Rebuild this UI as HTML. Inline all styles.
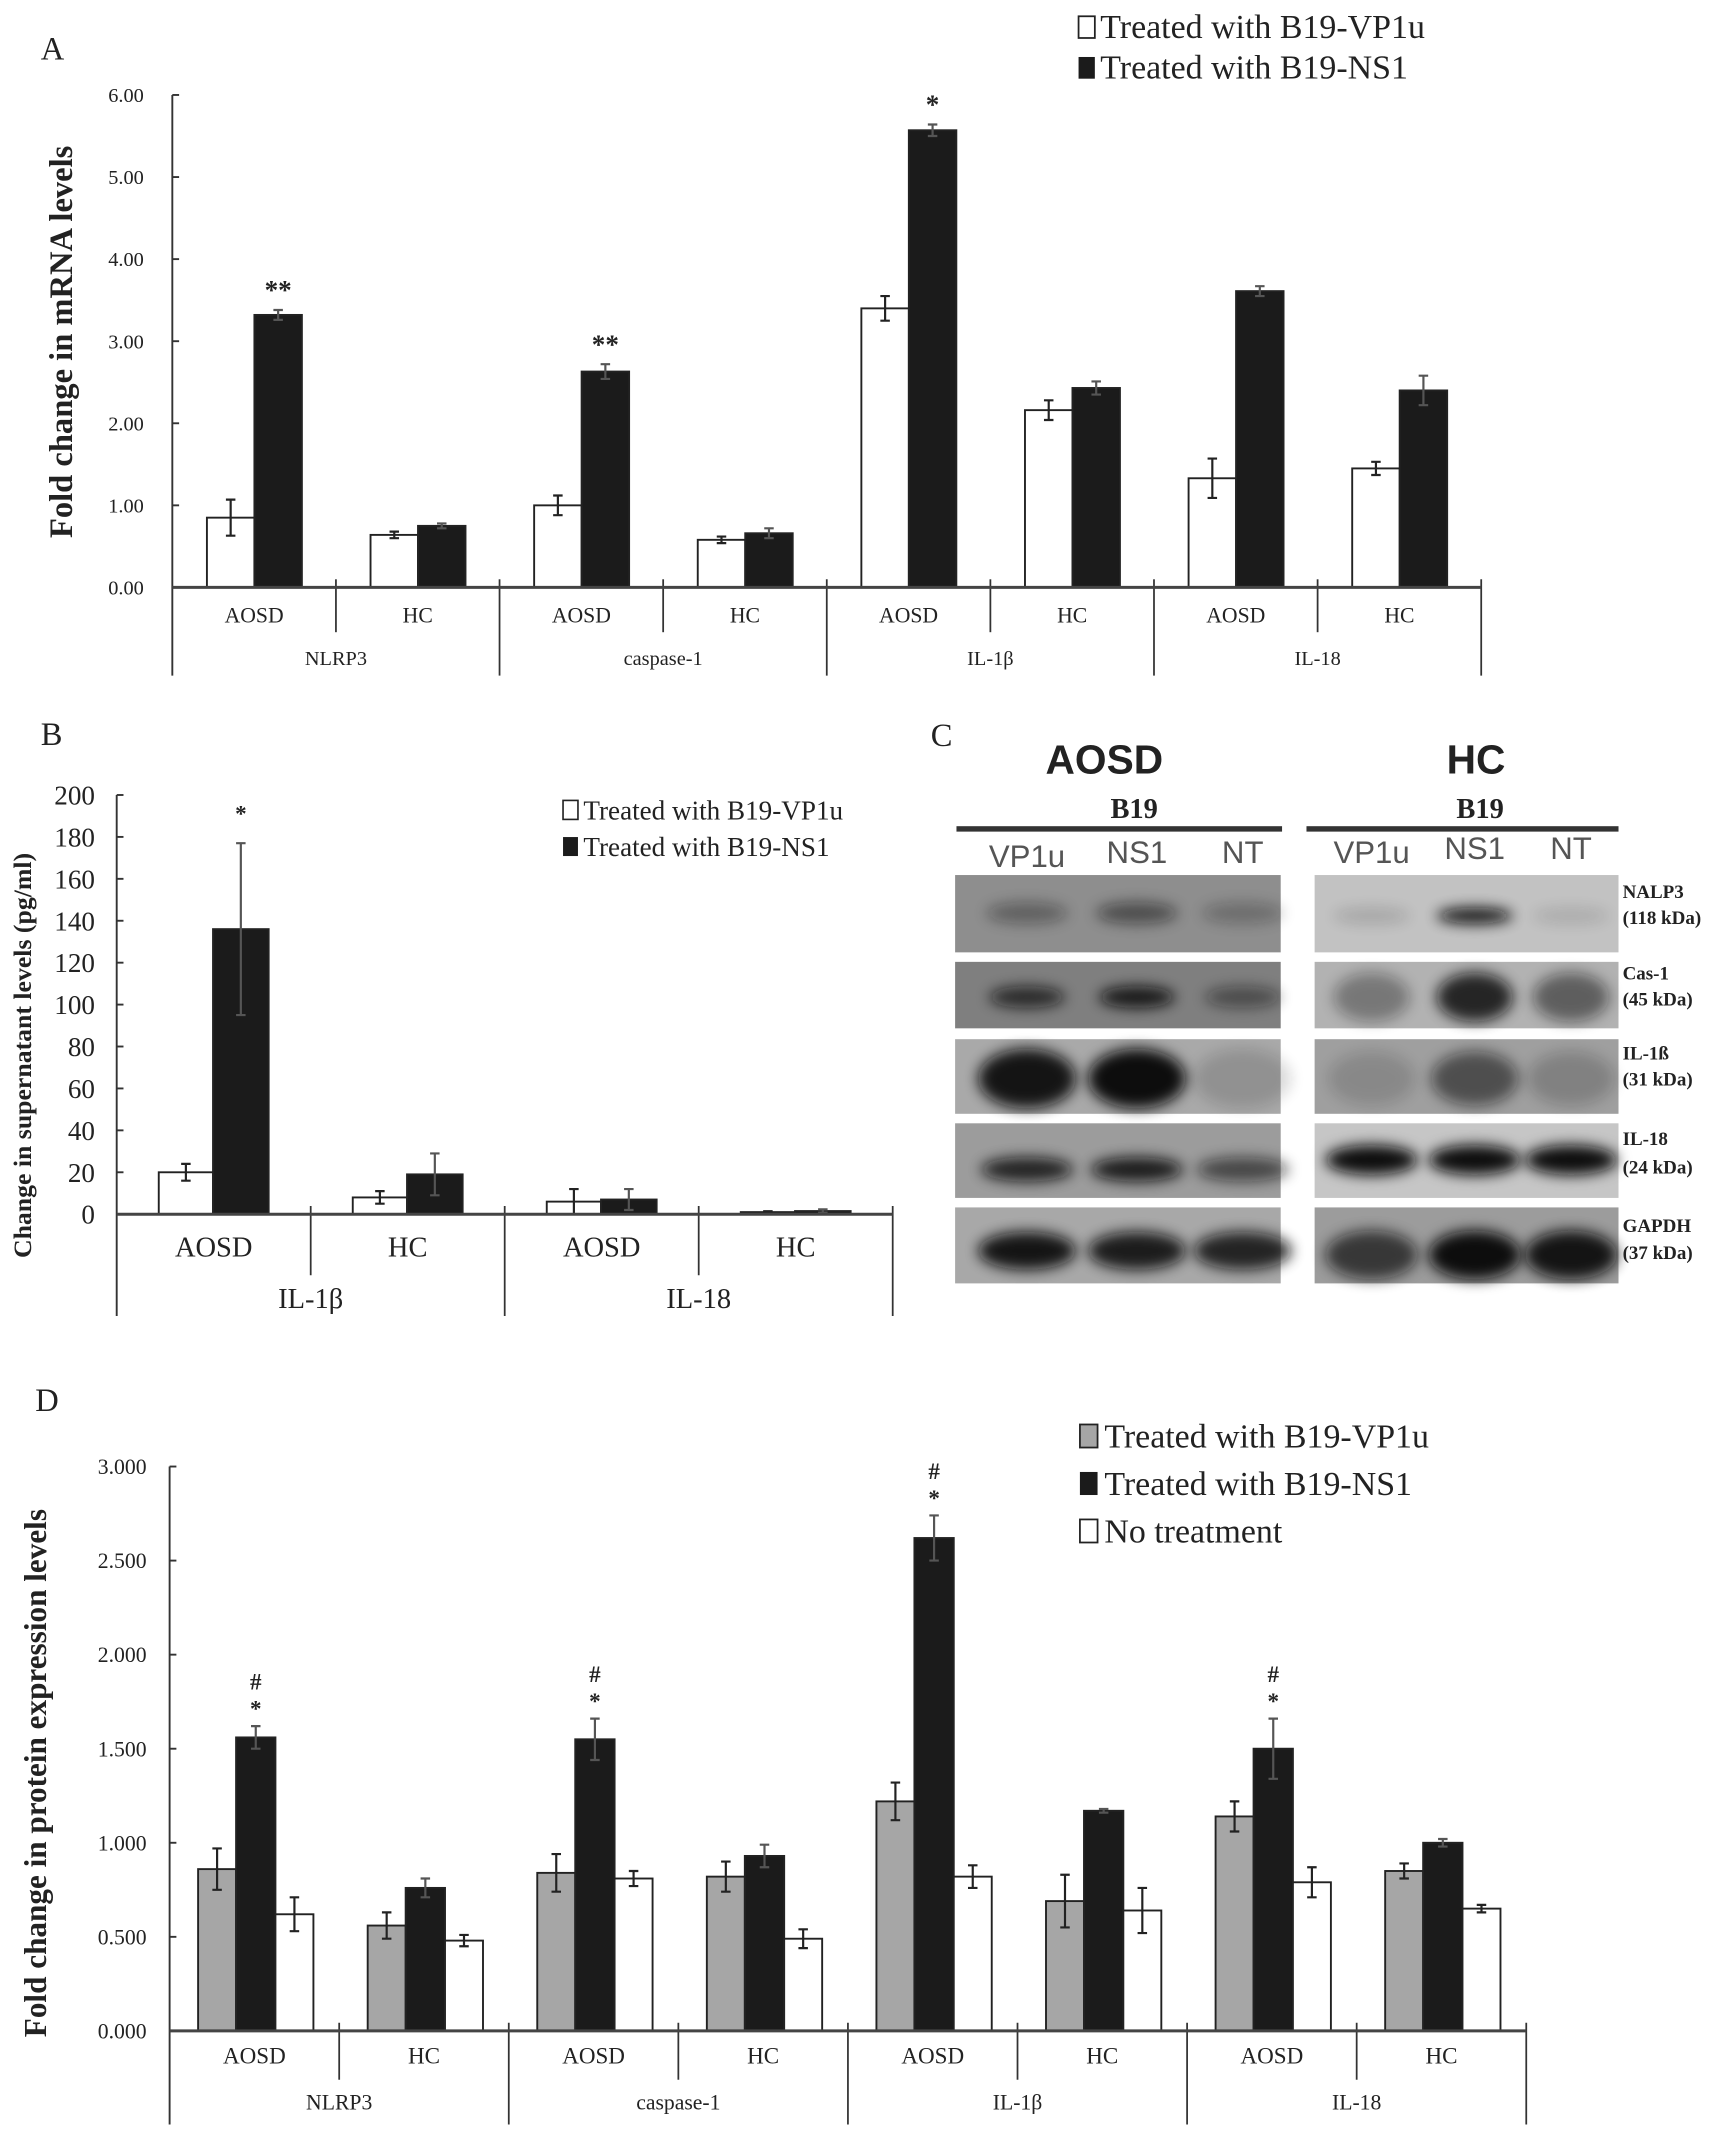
<!DOCTYPE html>
<html><head><meta charset="utf-8"><style>
html,body{margin:0;padding:0;background:#fff;}
svg{display:block;}
text{font-family:"Liberation Serif",serif;fill:#222;}
text.sans{font-family:"Liberation Sans",sans-serif;}
</style></head><body>
<svg id="fig" width="1723" height="2134" viewBox="0 0 1270 1573" xmlns="http://www.w3.org/2000/svg">
<defs>
<filter id="blur" x="-50%" y="-100%" width="200%" height="300%"><feGaussianBlur stdDeviation="5"/></filter>
</defs>
<rect width="1270" height="1573" fill="#fff"/>

<g id="panelA">
<text x="30" y="44" font-size="24">A</text>
<text transform="translate(53,252) rotate(-90)" text-anchor="middle" font-size="24" font-weight="bold">Fold change in mRNA levels</text>
<g>
<rect x="795" y="12" width="12" height="16" fill="#fff" stroke="#222" stroke-width="1.3"/>
<text x="811" y="28" font-size="25">Treated with B19-VP1u</text>
<rect x="795" y="42" width="12" height="16" fill="#1b1b1b"/>
<text x="811" y="58" font-size="25">Treated with B19-NS1</text>
</g>
</g>

<g id="panelB">
<text x="30" y="549" font-size="24">B</text>
<text transform="translate(23,778) rotate(-90)" text-anchor="middle" font-size="19" font-weight="bold">Change in supernatant levels (pg/ml)</text>
<g>
<rect x="415" y="590" width="11" height="14" fill="#fff" stroke="#222" stroke-width="1.2"/>
<text x="430" y="604" font-size="20">Treated with B19-VP1u</text>
<rect x="415" y="617" width="11" height="14" fill="#1b1b1b"/>
<text x="430" y="631" font-size="20">Treated with B19-NS1</text>
</g>
</g>

<g id="panelC">
<text x="686" y="550" font-size="24">C</text>
<text class="sans" x="814" y="570" font-size="30" font-weight="bold" text-anchor="middle">AOSD</text>
<text class="sans" x="1088" y="570" font-size="30" font-weight="bold" text-anchor="middle">HC</text>
<text x="836" y="603" font-size="21" font-weight="bold" text-anchor="middle" fill="#444">B19</text>
<text x="1091" y="603" font-size="21" font-weight="bold" text-anchor="middle" fill="#444">B19</text>
<rect x="705" y="609" width="240" height="4" fill="#333"/>
<rect x="963" y="609" width="230" height="4" fill="#333"/>
<g font-size="23" text-anchor="middle">
<text class="sans" x="757" y="639" style="fill:#555">VP1u</text>
<text class="sans" x="838" y="636" style="fill:#555">NS1</text>
<text class="sans" x="916" y="636" style="fill:#555">NT</text>
<text class="sans" x="1011" y="636" style="fill:#555">VP1u</text>
<text class="sans" x="1087" y="633" style="fill:#555">NS1</text>
<text class="sans" x="1158" y="633" style="fill:#555">NT</text>
</g>
<g id="blots"></g>
<g font-size="14" font-weight="bold">
<text x="1196" y="662">NALP3</text>
<text x="1196" y="681">(118 kDa)</text>
<text x="1196" y="722">Cas-1</text>
<text x="1196" y="741">(45 kDa)</text>
<text x="1196" y="781">IL-1ß</text>
<text x="1196" y="800">(31 kDa)</text>
<text x="1196" y="844">IL-18</text>
<text x="1196" y="865">(24 kDa)</text>
<text x="1196" y="908">GAPDH</text>
<text x="1196" y="928">(37 kDa)</text>
</g>
</g>

<g id="panelD">
<text x="26" y="1040" font-size="24">D</text>
<text transform="translate(34,1307) rotate(-90)" text-anchor="middle" font-size="23" font-weight="bold">Fold change in protein expression levels</text>
<g>
<rect x="796" y="1050" width="13" height="17" fill="#a6a6a6" stroke="#222" stroke-width="1.3"/>
<text x="814" y="1067" font-size="25">Treated with B19-VP1u</text>
<rect x="796" y="1085" width="13" height="17" fill="#1b1b1b"/>
<text x="814" y="1102" font-size="25">Treated with B19-NS1</text>
<rect x="796" y="1120" width="13" height="17" fill="#fff" stroke="#222" stroke-width="1.3"/>
<text x="814" y="1137" font-size="25">No treatment</text>
</g>
</g>
<g id="charts"></g>
</svg>
<script>
// ---------- Panel A data ----------
const aGroups = ["NLRP3","caspase-1","IL-1β","IL-18"];
const aSubs = ["AOSD","HC"];
const aTicks = ["0.00","1.00","2.00","3.00","4.00","5.00","6.00"];
const aVp1u = [0.85,0.64,1.00,0.58,3.40,2.16,1.33,1.45];
const aVp1uErr = [0.22,0.04,0.12,0.04,0.15,0.12,0.24,0.08];
const aNs1 = [3.32,0.75,2.63,0.66,5.57,2.43,3.61,2.40];
const aNs1Err = [0.06,0.03,0.09,0.06,0.07,0.08,0.06,0.18];
const aMarks = ["**","","**","","*","","",""];

// ---------- Panel B data ----------
const bGroups = ["IL-1β","IL-18"];
const bSubs = ["AOSD","HC"];
const bTicks = ["0","20","40","60","80","100","120","140","160","180","200"];
const bVp1u = [20,8,6,1];
const bVp1uErr = [4,3,6,0.4];
const bNs1 = [136,19,7,1.5];
const bNs1Err = [41,10,5,0.8];
const bMarks = ["*","","",""];

// ---------- Panel D data ----------
const dGroups = ["NLRP3","caspase-1","IL-1β","IL-18"];
const dSubs = ["AOSD","HC"];
const dTicks = ["0.000","0.500","1.000","1.500","2.000","2.500","3.000"];
const dVp1u = [0.86,0.56,0.84,0.82,1.22,0.69,1.14,0.85];
const dVp1uErr = [0.11,0.07,0.10,0.08,0.10,0.14,0.08,0.04];
const dNs1 = [1.56,0.76,1.55,0.93,2.62,1.17,1.50,1.00];
const dNs1Err = [0.06,0.05,0.11,0.06,0.12,0.01,0.16,0.02];
const dNt = [0.62,0.48,0.81,0.49,0.82,0.64,0.79,0.65];
const dNtErr = [0.09,0.03,0.04,0.05,0.06,0.12,0.08,0.02];
const dMarks = ["*","","*","","*","","*",""];

const NS = "http://www.w3.org/2000/svg";
const root = document.getElementById("charts");
function mk(tag, attrs, parent, txt){
  const e = document.createElementNS(NS, tag);
  for (const k in attrs) e.setAttribute(k, attrs[k]);
  if (txt !== undefined) e.textContent = txt;
  (parent || root).appendChild(e);
  return e;
}

function drawChart(cfg){
  const g = mk("g", {});
  
  
  const yScale = v => cfg.y0 - (v - cfg.vmin) / (cfg.vmax - cfg.vmin) * (cfg.y0 - cfg.yTop);
  const nSub = cfg.groups.length * cfg.subs.length;
  const x1 = cfg.x0 + nSub * cfg.sub;
  const ax = mk("line", {x1:cfg.x0, y1:cfg.yTop, x2:cfg.x0, y2:cfg.yBottom, stroke:"#333", "stroke-width":1.4}, g);
  
  
  cfg.ticks.forEach((t, i) => {
    const v = cfg.vmin + i * (cfg.vmax - cfg.vmin) / (cfg.ticks.length - 1);
    const y = yScale(v);
    const tk = mk("line", {x1:cfg.x0, y1:y, x2:cfg.x0 + 5, y2:y, stroke:"#333", "stroke-width":1.4}, g);
    
    
    const tl = mk("text", {x:cfg.tickX, y:y + cfg.tickFont * 0.35, "text-anchor":"end", "font-size":cfg.tickFont, fill:"#444"}, g, t);
    
    
  });
  for (let k = 1; k < nSub; k++){
    const x = cfg.x0 + k * cfg.sub;
    const isGroup = k % cfg.subs.length === 0;
    const sl = mk("line", {x1:x, y1:cfg.y0 - 6, x2:x, y2:isGroup ? cfg.yBottom : cfg.subLineEnd, stroke:"#333", "stroke-width":1.3}, g);
    
    
  }
  const el = mk("line", {x1:x1, y1:cfg.y0 - 6, x2:x1, y2:cfg.yBottom, stroke:"#333", "stroke-width":1.3}, g);
  
  
  for (let i = 0; i < nSub; i++){
    const sx = cfg.x0 + i * cfg.sub;
    cfg.series.forEach(s => {
      const v = s.vals[i], e = s.errs[i];
      const yt = yScale(v);
      const bx = sx + s.off, bw = s.w;
      const r = mk("rect", {x:bx, y:yt, width:bw, height:cfg.y0 - yt, fill:s.fill, stroke:"#222", "stroke-width":1.4}, g);
      
      
      const cx = bx + bw / 2;
      const eu = yScale(v + e), ed = yScale(v - e);
      const eb = mk("path", {d:`M${cx},${eu}V${ed}M${cx-3.5},${eu}H${cx+3.5}M${cx-3.5},${ed}H${cx+3.5}`, stroke: s.fill === "#1b1b1b" ? "#555" : "#222", "stroke-width":1.6, fill:"none"}, g);
      
      
      if (s.marks && s.marks[i]){
        const st = mk("text", {x:cx, y:eu - cfg.markGap, "text-anchor":"middle", "font-size":cfg.markFont, "font-weight":"bold"}, g, s.marks[i]);
        
        
        if (cfg.hash){
          const hs = mk("text", {x:cx, y:eu - cfg.markGap - 20, "text-anchor":"middle", "font-size":cfg.markFont, "font-weight":"bold"}, g, "#");
          
          
        }
      }
    });
    const lb = mk("text", {x:sx + cfg.sub / 2, y:cfg.subLabelY, "text-anchor":"middle", "font-size":cfg.subFont}, g, cfg.subs[i % cfg.subs.length]);
    
    
  }
  cfg.groups.forEach((gname, j) => {
    const gx = cfg.x0 + (j + 0.5) * cfg.sub * cfg.subs.length;
    const gl = mk("text", {x:gx, y:cfg.groupLabelY, "text-anchor":"middle", "font-size":cfg.groupFont}, g, gname);
    
    
  });
  const xa = mk("line", {x1:cfg.x0, y1:cfg.y0, x2:x1, y2:cfg.y0, stroke:"#444", "stroke-width":2.2}, g);
  
  
}

drawChart({name:"chart-a-mrna", x0:127, sub:120.6, y0:433, yTop:70, yBottom:498, subLineEnd:466, vmin:0, vmax:6,
  ticks:aTicks, tickX:106, tickFont:15, groups:aGroups, subs:aSubs, subLabelY:459, subFont:16, groupLabelY:490, groupFont:15,
  markGap:8, markFont:20, hash:false,
  series:[{key:"vp1u", vals:aVp1u, errs:aVp1uErr, fill:"#fff", off:25.5, w:35},
          {key:"ns1", vals:aNs1, errs:aNs1Err, fill:"#1b1b1b", off:60.5, w:35, marks:aMarks}]});

drawChart({name:"chart-b-supernatant", x0:86, sub:143, y0:895, yTop:586, yBottom:970, subLineEnd:940, vmin:0, vmax:200,
  ticks:bTicks, tickX:70, tickFont:20, groups:bGroups, subs:bSubs, subLabelY:926, subFont:21, groupLabelY:964, groupFont:21,
  markGap:16, markFont:17, hash:false,
  series:[{key:"vp1u", vals:bVp1u, errs:bVp1uErr, fill:"#fff", off:31, w:40},
          {key:"ns1", vals:bNs1, errs:bNs1Err, fill:"#1b1b1b", off:71, w:41, marks:bMarks}]});

drawChart({name:"chart-d-protein", x0:125, sub:125, y0:1497, yTop:1081, yBottom:1566, subLineEnd:1533, vmin:0, vmax:3,
  ticks:dTicks, tickX:108, tickFont:16, groups:dGroups, subs:dSubs, subLabelY:1521, subFont:17, groupLabelY:1555, groupFont:16,
  markGap:7, markFont:17, hash:true,
  series:[{key:"vp1u", vals:dVp1u, errs:dVp1uErr, fill:"#a6a6a6", off:21, w:28},
          {key:"ns1", vals:dNs1, errs:dNs1Err, fill:"#1b1b1b", off:49, w:29, marks:dMarks},
          {key:"nt", vals:dNt, errs:dNtErr, fill:"#fff", off:78, w:28}]});

const blots = document.getElementById("blots");
const rowsY = [[645,702],[709,758],[766,821],[828,883],[890,946]];
const panels = [
  {x:704, w:240, lanes:[757,838,916], bg:["#8e8e8e","#7f7f7f","#a9a9a9","#9c9c9c","#a8a8a8"],
   bands:[[673,30,8,[.35,.5,.25]],[735,28,8,[.75,.9,.45]],[795,36,22,[.95,1,.15]],[862,34,9,[.85,.9,.6]],[922,36,14,[.95,.9,.85]]]},
  {x:969, w:224, lanes:[1011,1087,1158], bg:["#c2c2c2","#b2b2b2","#9f9f9f","#c6c6c6","#9c9c9c"],
   bands:[[675,28,6,[.15,.95,.12]],[735,28,18,[.35,.85,.5]],[795,32,20,[.15,.55,.2]],[855,34,11,[1,1,1]],[925,34,18,[.7,1,.95]]]}
];
panels.forEach((p, pi) => {
  rowsY.forEach((ry, ri) => {
    const r = mk("rect", {x:p.x, y:ry[0], width:p.w, height:ry[1]-ry[0], fill:p.bg[ri]}, blots);
    
    
    const b = p.bands[ri];
    p.lanes.forEach((lx, li) => {
      const e = mk("ellipse", {cx:lx, cy:b[0], rx:b[1], ry:b[2], fill:"#0a0a0a", opacity:b[3][li], filter:"url(#blur)"}, blots);
      
      
    });
  });
});
</script>
</body></html>
